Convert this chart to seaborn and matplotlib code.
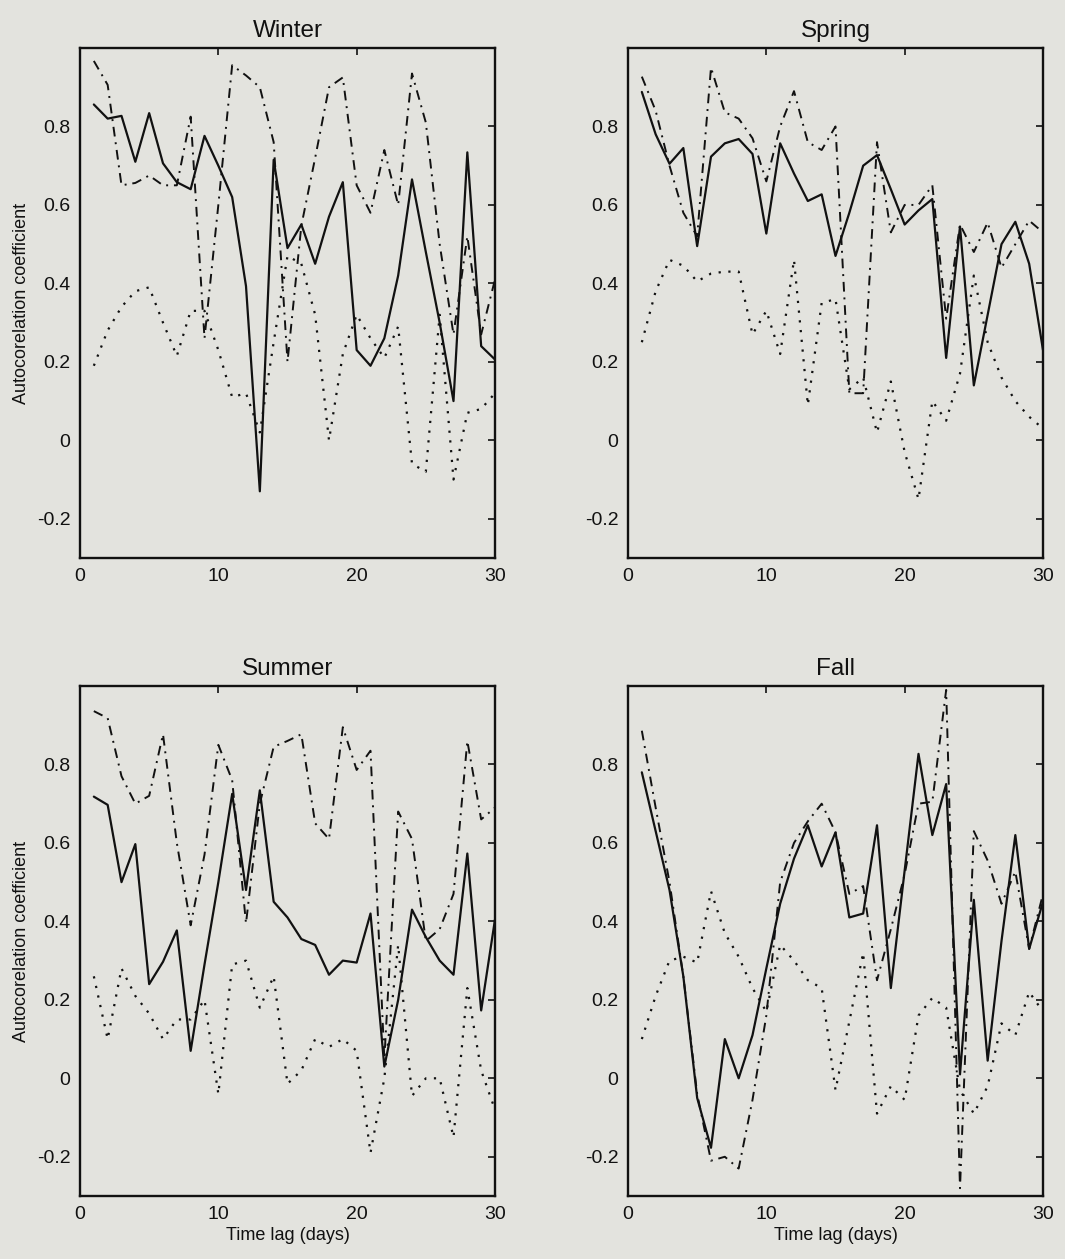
import numpy as np
import pandas as pd
import matplotlib
matplotlib.use('Agg')
import matplotlib.pyplot as plt
import seaborn as sns

# ── Data ───────────────────────────────────────────────────────────────────
lags = list(range(1, 31))
seasons = ['Winter', 'Spring', 'Summer', 'Fall']

winter_solid = [0.856, 0.82, 0.827, 0.71, 0.834, 0.706, 0.658, 0.64, 0.776, 0.70,
                0.62, 0.393, -0.13, 0.715, 0.49, 0.55, 0.45, 0.57, 0.658, 0.23,
                0.19, 0.26, 0.42, 0.665, 0.48, 0.30, 0.10, 0.734, 0.24, 0.206]
winter_dashdot = [0.967, 0.906, 0.65, 0.656, 0.675, 0.65, 0.65, 0.825, 0.26, 0.60,
                  0.956, 0.93, 0.90, 0.76, 0.20, 0.547, 0.72, 0.90, 0.925, 0.65,
                  0.58, 0.74, 0.60, 0.935, 0.81, 0.50, 0.27, 0.52, 0.27, 0.41]
winter_dotted = [0.19, 0.28, 0.34, 0.38, 0.39, 0.30, 0.215, 0.33, 0.33, 0.23,
                 0.11, 0.12, 0.02, 0.25, 0.47, 0.45, 0.32, 0.0, 0.22, 0.32,
                 0.26, 0.21, 0.29, -0.06, -0.08, 0.32, -0.10, 0.07, 0.08, 0.12]

spring_solid = [0.888, 0.78, 0.705, 0.745, 0.495, 0.723, 0.757, 0.768, 0.73, 0.527,
                0.757, 0.68, 0.61, 0.627, 0.47, 0.58, 0.70, 0.727, 0.64, 0.55,
                0.586, 0.615, 0.21, 0.545, 0.14, 0.32, 0.50, 0.557, 0.45, 0.23]
spring_dashdot = [0.927, 0.84, 0.70, 0.58, 0.52, 0.95, 0.836, 0.82, 0.77, 0.66,
                  0.80, 0.89, 0.76, 0.74, 0.80, 0.12, 0.12, 0.76, 0.53, 0.60,
                  0.60, 0.65, 0.31, 0.55, 0.48, 0.555, 0.44, 0.50, 0.56, 0.53]
spring_dotted = [0.25, 0.38, 0.46, 0.445, 0.405, 0.425, 0.43, 0.43, 0.27, 0.33,
                 0.22, 0.46, 0.09, 0.35, 0.36, 0.13, 0.16, 0.02, 0.15, -0.03,
                 -0.15, 0.10, 0.05, 0.17, 0.42, 0.25, 0.16, 0.10, 0.06, 0.03]

summer_solid = [0.718, 0.697, 0.50, 0.597, 0.24, 0.297, 0.377, 0.07, 0.29, 0.50,
                0.725, 0.48, 0.734, 0.45, 0.41, 0.355, 0.34, 0.264, 0.30, 0.295,
                0.42, 0.03, 0.20, 0.43, 0.36, 0.30, 0.264, 0.573, 0.173, 0.405]
summer_dashdot = [0.936, 0.918, 0.77, 0.70, 0.72, 0.877, 0.60, 0.39, 0.57, 0.85,
                  0.76, 0.395, 0.70, 0.845, 0.86, 0.877, 0.65, 0.61, 0.895, 0.786,
                  0.835, 0.05, 0.68, 0.61, 0.35, 0.38, 0.47, 0.86, 0.66, 0.69]
summer_dotted = [0.26, 0.10, 0.28, 0.21, 0.165, 0.10, 0.15, 0.15, 0.20, -0.04,
                 0.29, 0.30, 0.18, 0.26, -0.014, 0.02, 0.10, 0.08, 0.10, 0.07,
                 -0.19, 0.0, 0.34, -0.045, 0.0, 0.0, -0.15, 0.23, 0.02, -0.08]

fall_solid = [0.78, 0.63, 0.48, 0.26, -0.05, -0.177, 0.10, 0.0, 0.11, 0.28,
              0.445, 0.56, 0.645, 0.54, 0.627, 0.41, 0.42, 0.645, 0.23, 0.53,
              0.827, 0.62, 0.75, 0.01, 0.455, 0.045, 0.35, 0.62, 0.33, 0.45]
fall_dashdot = [0.886, 0.69, 0.50, 0.26, -0.04, -0.21, -0.20, -0.23, -0.055, 0.16,
                0.50, 0.60, 0.655, 0.70, 0.627, 0.47, 0.49, 0.25, 0.38, 0.52,
                0.70, 0.705, 0.99, -0.28, 0.63, 0.555, 0.445, 0.527, 0.33, 0.47]
fall_dotted = [0.10, 0.21, 0.30, 0.31, 0.295, 0.477, 0.37, 0.31, 0.23, 0.17,
               0.34, 0.30, 0.25, 0.23, -0.03, 0.145, 0.32, -0.09, -0.02, -0.055,
               0.16, 0.205, 0.18, -0.03, -0.09, -0.02, 0.14, 0.11, 0.22, 0.17]

series = {
    'Winter': (winter_solid, winter_dashdot, winter_dotted),
    'Spring': (spring_solid, spring_dashdot, spring_dotted),
    'Summer': (summer_solid, summer_dashdot, summer_dotted),
    'Fall': (fall_solid, fall_dashdot, fall_dotted),
}

# ── Style ──────────────────────────────────────────────────────────────────
bg = '#e3e3de'
ink = '#111111'
sns.set_theme(style='white')
plt.rcParams['font.family'] = ['Liberation Sans', 'DejaVu Sans']
plt.rcParams['axes.linewidth'] = 1.7

# solid, dash-dot, dotted (matlab-ish)
line_styles = [('-', 1.6), ((0, (5, 3, 1, 3)), 1.4), ((0, (1, 3.4)), 1.6)]

W, H = 1065, 1259
fig = plt.figure(figsize=(W / 100, H / 100), dpi=100, facecolor=bg)

lefts = [80, 628, 80, 628]
tops = [48, 48, 686, 686]
aw, ah = 415, 510

for i, name in enumerate(seasons):
    ax = fig.add_axes([lefts[i] / W, 1 - (tops[i] + ah) / H, aw / W, ah / H])
    ax.set_facecolor(bg)
    for vals, (ls, lw) in zip(series[name], line_styles):
        df = pd.DataFrame({'lag': lags, 'r': vals})
        sns.lineplot(data=df, x='lag', y='r', ax=ax, color=ink,
                     linewidth=lw, linestyle=ls)
        ax.lines[-1].set_linestyle(ls)

    ax.set_xlim(0, 30)
    ax.set_ylim(-0.3, 1.0)
    ax.set_xticks([0, 10, 20, 30])
    ax.set_yticks([-0.2, 0, 0.2, 0.4, 0.6, 0.8])
    ax.set_yticklabels(['-0.2', '0', '0.2', '0.4', '0.6', '0.8'])
    ax.tick_params(direction='in', length=5, width=1.2, top=True, right=True,
                   labelsize=14, colors=ink, pad=7)
    for s in ax.spines.values():
        s.set_color(ink)
    ax.set_title(name, fontsize=17.5, color=ink, pad=8)
    ax.set_xlabel('Time lag (days)' if i >= 2 else '', fontsize=13, color=ink, labelpad=3)
    ax.set_ylabel('Autocorelation coefficient' if i % 2 == 0 else '', fontsize=13,
                  color=ink, labelpad=5)

fig.savefig('out.png', dpi=100, facecolor=bg)
